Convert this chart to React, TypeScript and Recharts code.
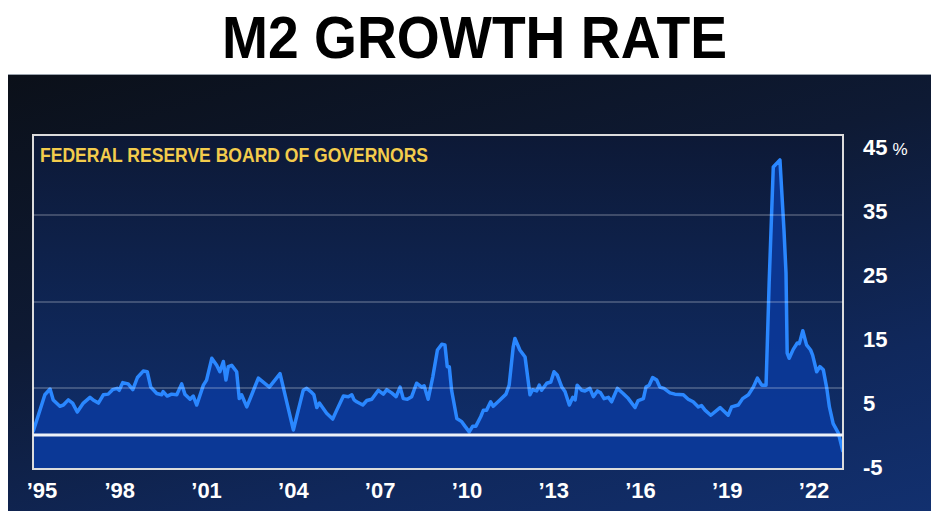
import React from 'react'
import { AreaChart, Area, XAxis, YAxis, ReferenceLine, ReferenceArea } from 'recharts'

// decimal years
const dates = [
  1995.0, 1995.41, 1995.59, 1995.7, 1995.93, 1996.05, 1996.22, 1996.37, 1996.53, 1996.74,
  1996.97, 1997.11, 1997.26, 1997.43, 1997.6, 1997.75, 1997.91, 1997.98, 1998.1, 1998.29,
  1998.45, 1998.61, 1998.81, 1998.95, 1999.07, 1999.28, 1999.45, 1999.5, 1999.64, 1999.79,
  1999.97, 2000.14, 2000.25, 2000.43, 2000.54, 2000.66, 2000.89, 2001.0, 2001.18, 2001.35,
  2001.46, 2001.58, 2001.67, 2001.75, 2001.87, 2002.04, 2002.13, 2002.21, 2002.39, 2002.56,
  2002.79, 2003.17, 2003.54, 2003.77, 2004.0, 2004.17, 2004.34, 2004.46, 2004.6, 2004.71,
  2004.81, 2004.9, 2005.15, 2005.36, 2005.5, 2005.73, 2005.9, 2006.02, 2006.1, 2006.19,
  2006.4, 2006.54, 2006.71, 2006.94, 2007.11, 2007.23, 2007.4, 2007.55, 2007.69, 2007.8,
  2007.94, 2008.09, 2008.26, 2008.44, 2008.52, 2008.66, 2008.82, 2008.98, 2009.13, 2009.24,
  2009.32, 2009.39, 2009.47, 2009.65, 2009.82, 2009.93, 2010.08, 2010.2, 2010.31, 2010.48,
  2010.57, 2010.68, 2010.82, 2010.91, 2011.14, 2011.35, 2011.46, 2011.6, 2011.66, 2011.83,
  2012.01, 2012.18, 2012.27, 2012.41, 2012.5, 2012.58, 2012.76, 2012.9, 2013.01, 2013.12,
  2013.28, 2013.39, 2013.54, 2013.66, 2013.74, 2013.81, 2013.97, 2014.08, 2014.25, 2014.37,
  2014.51, 2014.62, 2014.74, 2014.89, 2015.0, 2015.2, 2015.4, 2015.58, 2015.81, 2015.92,
  2016.1, 2016.19, 2016.3, 2016.42, 2016.56, 2016.67, 2016.81, 2017.02, 2017.19, 2017.48,
  2017.65, 2017.82, 2018.0, 2018.11, 2018.23, 2018.43, 2018.75, 2019.03, 2019.15, 2019.38,
  2019.53, 2019.73, 2019.9, 2020.04, 2020.19, 2020.34, 2020.45, 2020.59, 2020.82, 2020.96,
  2021.03, 2021.07, 2021.14, 2021.28, 2021.42, 2021.49, 2021.61, 2021.74, 2021.88, 2021.95,
  2022.09, 2022.2, 2022.32, 2022.44, 2022.53, 2022.66, 2022.84, 2023.0,
]

// M2 growth, %
const growth = [
  0.5, 6.3, 7.2, 5.5, 4.5, 4.7, 5.5, 5.0, 3.6, 5.0,
  5.9, 5.4, 5.0, 6.3, 6.4, 7.1, 7.3, 7.0, 8.2, 8.0,
  7.1, 9.0, 10.0, 9.9, 7.5, 6.5, 6.3, 6.8, 6.1, 6.4,
  6.3, 8.0, 6.4, 5.6, 6.1, 4.7, 7.8, 8.6, 12.0, 10.9,
  9.9, 11.5, 8.6, 10.7, 10.9, 9.9, 5.7, 6.3, 4.4, 6.3,
  8.9, 7.5, 9.6, 5.2, 0.8, 3.9, 7.0, 7.3, 6.8, 6.3,
  4.3, 5.0, 3.4, 2.5, 3.9, 6.1, 6.0, 6.3, 5.5, 5.2,
  4.7, 5.4, 5.6, 7.0, 6.4, 7.1, 6.6, 6.0, 7.5, 5.7,
  5.6, 6.0, 8.1, 7.5, 7.7, 5.6, 9.1, 13.3, 14.2, 14.1,
  10.7, 10.7, 7.0, 2.6, 2.1, 1.4, 0.5, 1.4, 1.4, 2.9,
  3.9, 3.9, 5.2, 4.5, 5.5, 6.4, 7.8, 13.8, 15.1, 13.3,
  12.2, 6.3, 7.1, 6.9, 7.8, 7.0, 8.1, 8.3, 9.9, 9.4,
  7.5, 6.8, 4.7, 5.9, 5.5, 7.8, 7.0, 6.9, 7.3, 6.0,
  6.9, 6.6, 5.7, 5.9, 5.2, 7.3, 6.5, 5.7, 4.3, 5.4,
  5.7, 7.5, 7.8, 9.0, 8.6, 7.5, 7.3, 6.6, 6.4, 6.3,
  5.6, 5.2, 4.4, 4.6, 3.9, 3.1, 4.3, 3.1, 4.4, 4.7,
  5.7, 6.3, 7.5, 8.9, 7.8, 7.8, 24.2, 41.9, 43.0, 32.0,
  25.3, 12.8, 12.0, 13.4, 14.4, 14.3, 16.3, 14.1, 13.3, 12.5,
  9.9, 10.7, 10.2, 7.3, 4.4, 1.8, 0.3, -2.6,
]

const yearTicks = [1995, 1998, 2001, 2004, 2007, 2010, 2013, 2016, 2019, 2022]
const valueTicks = [-5, 5, 15, 25, 35, 45]
const gridValues = [7.36, 20.8, 34.4]

const data = dates.map((t, i) => ({ t, v: growth[i] }))

const FONT = "'Liberation Sans', Arial, sans-serif"

function YearTick(props: any) {
  const { x, y, payload } = props
  const shift = payload.value === 1995 ? 9 : 0
  return (
    <text x={x + shift} y={y + 29} textAnchor="middle" fill="#fff" fontSize={22} fontWeight="bold" fontFamily={FONT}>
      {'\u2019' + String(payload.value).slice(2)}
    </text>
  )
}

function ValueTick(props: any) {
  const { x, y, payload } = props
  return (
    <text x={x} y={y + 8} textAnchor="start" fill="#fff" fontSize={22} fontWeight="bold" fontFamily={FONT}>
      {payload.value}
      {payload.value === 45 && <tspan dx={5} fontSize={17} fontWeight="normal">%</tspan>}
    </text>
  )
}

export default function App() {
  return (
    <div style={{ position: 'absolute', left: 0, top: 0, width: 931, height: 523, background: '#fff', overflow: 'hidden' }}>
      <div
        style={{
          position: 'absolute', left: 8, top: 74, width: 923, height: 436,
          borderTop: '1px solid #9aa3ad',
          background: 'linear-gradient(165deg, #0b1019 0%, #0e1a34 40%, #10285c 75%, #12306f 100%)',
        }}
      />
      <div style={{ position: 'absolute', left: 0, top: 0 }}>
        <AreaChart width={931} height={523} data={data} margin={{ top: 135, right: 28, bottom: 24, left: 33 }}>
          <defs>
            <linearGradient id="plotBg" x1="0" y1="0" x2="0" y2="1">
              <stop offset="0%" stopColor="#0d1936" />
              <stop offset="100%" stopColor="#10306f" />
            </linearGradient>
          </defs>
          <XAxis
            dataKey="t"
            type="number"
            domain={[1995, 2023]}
            ticks={yearTicks}
            interval={0}
            allowDataOverflow
            axisLine={false}
            tickLine={false}
            tickSize={0}
            tickMargin={0}
            height={30}
            tick={<YearTick />}
          />
          <YAxis
            orientation="right"
            type="number"
            domain={[-5.3, 46.9]}
            ticks={valueTicks}
            interval={0}
            allowDataOverflow
            axisLine={false}
            tickLine={false}
            tickSize={0}
            tickMargin={20}
            width={60}
            tick={<ValueTick />}
          />
          <ReferenceArea y1={-5.3} y2={46.9} fill="url(#plotBg)" fillOpacity={1} stroke="none" />
          {gridValues.map((g) => (
            <ReferenceLine key={g} y={g} stroke="rgba(255,255,255,0.28)" strokeWidth={1.5} />
          ))}
          <Area
            type="linear"
            dataKey="v"
            baseValue="dataMin"
            stroke="#2a87ff"
            strokeWidth={3.5}
            strokeLinejoin="round"
            fill="#0a3a9e"
            fillOpacity={0.85}
            isAnimationActive={false}
            dot={false}
            activeDot={false}
          />
          <ReferenceLine y={0} stroke="#eef2f8" strokeWidth={3} />
          <ReferenceArea y1={-5.3} y2={46.9} fill="none" stroke="#dcdcdc" strokeWidth={2} />
        </AreaChart>
      </div>
      <svg width={931} height={523} style={{ position: 'absolute', left: 0, top: 0, pointerEvents: 'none' }}>
        <text x={222} y={58} textLength={505} lengthAdjust="spacingAndGlyphs" fill="#000" fontSize={60} fontWeight="bold" fontFamily={FONT}>
          M2 GROWTH RATE
        </text>
        <text x={40} y={162} textLength={388} lengthAdjust="spacingAndGlyphs" fill="#f3cc4c" fontSize={21} fontWeight="bold" fontFamily={FONT}>
          FEDERAL RESERVE BOARD OF GOVERNORS
        </text>
      </svg>
    </div>
  )
}
